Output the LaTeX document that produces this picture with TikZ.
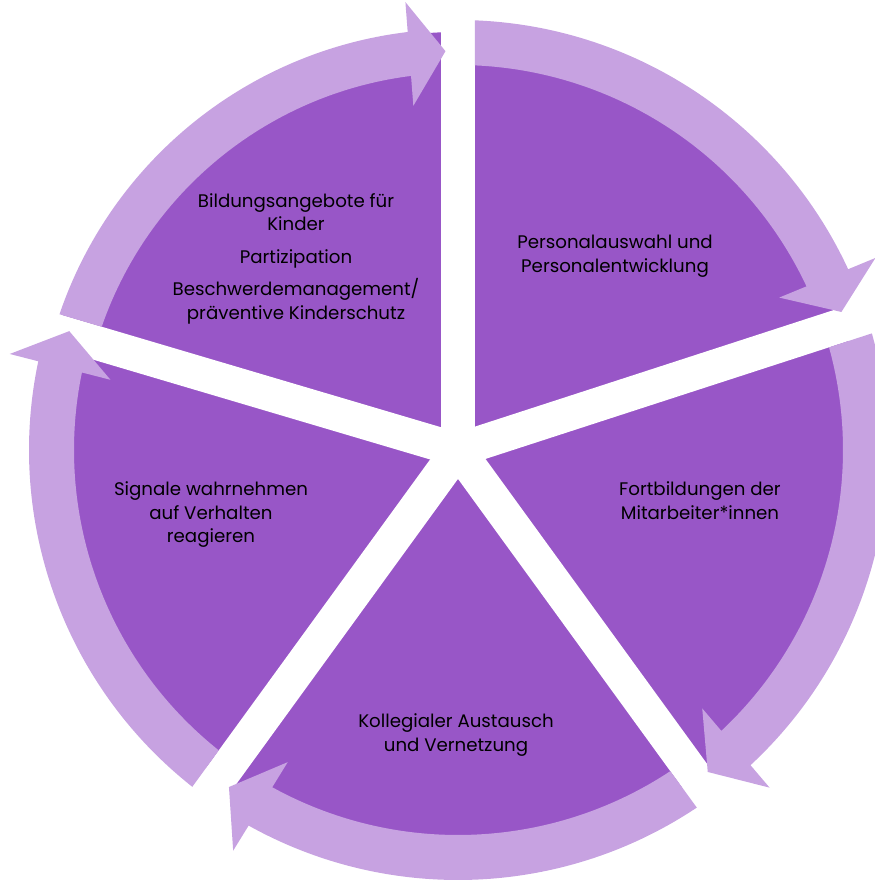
\documentclass[tikz,border=0pt]{standalone}
\usepackage{fontspec}
\setmainfont{Poppins}
\usetikzlibrary{calc}
\definecolor{segdark}{RGB}{152,86,199}
\definecolor{seglight}{RGB}{199,162,225}
\tikzset{
  segment/.style={fill=segdark},
  ringarrow/.style={fill=seglight},
  gapline/.style={draw=white, line width=34pt},
  label/.style={align=center, text=black, font=\fontsize{18.2}{23.5}\selectfont, inner sep=0pt}
}
\begin{document}
\begin{tikzpicture}
\useasboundingbox (-458pt,-432pt) rectangle (416pt,450pt);

% pie segments: start angle / end angle / outer radius
\foreach \sa/\ea/\rr in {90/18/405, 18/-54/405, -54/-126/405, 234/163.5/405, 163.5/90/418} {
  \fill[segment] (0,0) -- (\sa:{\rr pt}) arc[start angle=\sa, end angle=\ea, radius={\rr pt}] -- cycle;
}

% white gaps between the segments
\foreach \ga in {90, 18, -54, -126, 163.5} {
  \draw[gapline] (0,0) -- (\ga:450pt);
}

% clockwise arrows around the segments:
% start angle / end angle / inner radius / outer radius / tip offset
\foreach \sa/\ea/\rin/\rout/\tof in {90/18/385/430/1.8, 18/-54/385/430/1.8, -54/-126/385/430/1.8, 234/163.5/384/429/-0.5, 163.5/90/377/421/1.8} {
  \pgfmathsetmacro\rmid{(\rin+\rout)/2}
  \pgfmathsetmacro\tia{\sa-asin(17/\rin)}
  \pgfmathsetmacro\tib{\sa-asin(17/\rout)}
  \pgfmathsetmacro\tipa{\ea+\tof}
  \pgfmathsetmacro\basa{\tipa+5.2}
  \pgfmathsetmacro\shfa{\tipa+4.2}
  \fill[ringarrow] (\tia:{\rin pt}) -- (\tib:{\rout pt})
    arc[start angle=\tib, end angle=\shfa, radius={\rout pt}]
    -- (\shfa:{\rin pt})
    arc[start angle=\shfa, end angle=\tia, radius={\rin pt}] -- cycle;
  \coordinate (tipP) at (\tipa:{\rmid pt});
  \coordinate (baseP) at (\basa:{\rmid pt});
  \fill[ringarrow] (tipP) -- ($(baseP)!52pt!90:(tipP)$) -- ($(baseP)!52pt!-90:(tipP)$) -- cycle;
}

% segment texts
\node[label] (bildung) at (-162pt,191.5pt) {Bildungsangebote für\\Kinder\\[9pt]Partizipation\\[9pt]Beschwerdemanagement/\\präventive Kinderschutz};
\node[label] (personal) at (157pt,194pt) {Personalauswahl und\\Personalentwicklung};
\node[label] (fortbildung) at (242pt,-50.5pt) {Fortbildungen der\\Mitarbeiter*innen};
\node[label] (austausch) at (-2pt,-285pt) {Kollegialer Austausch\\und Vernetzung};
\node[label] (signale) at (-247pt,-65pt) {Signale wahrnehmen\\auf Verhalten\\reagieren};
\end{tikzpicture}
\end{document}
